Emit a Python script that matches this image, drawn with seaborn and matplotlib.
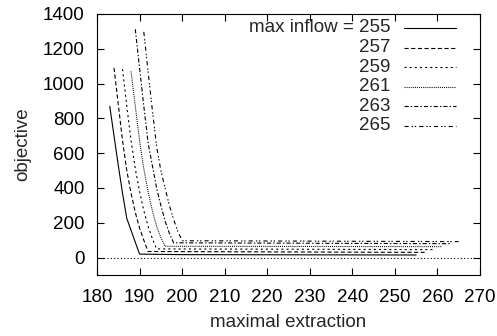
import matplotlib
matplotlib.use("Agg")
import matplotlib.pyplot as plt
import seaborn as sns
import numpy as np

sns.set_style("ticks")
plt.rcParams['font.family'] = ['Liberation Sans', 'DejaVu Sans']
plt.rcParams['lines.scale_dashes'] = False

inflows = [255, 257, 259, 261, 263, 265]

x255 = [183, 184, 185, 186, 187, 188, 189, 190, 200, 255]
y255 = [870, 700, 530, 370, 225, 157, 88, 20, 17, 15]

x257 = [184, 185, 186, 187, 188, 189, 190, 191, 192, 257]
y257 = [1090, 880, 672, 500, 370, 260, 170, 100, 35, 30]

x259 = [186, 187, 188, 189, 190, 191, 192, 193, 194, 259]
y259 = [1083, 870, 672, 510, 380, 270, 180, 110, 50, 46]

x261 = [188, 189, 190, 191, 192, 193, 194, 195, 196, 261]
y261 = [1070, 870, 672, 510, 380, 270, 180, 115, 65, 63]

x263 = [189, 190, 191, 192, 193, 194, 195, 196, 197, 198, 263]
y263 = [1312, 1090, 870, 660, 530, 400, 300, 210, 140, 85, 80]

x265 = [191, 192, 193, 194, 195, 196, 197, 198, 199, 200, 265]
y265 = [1297, 1070, 850, 640, 500, 400, 300, 220, 150, 97, 92]

xs = [x255, x257, x259, x261, x263, x265]
ys = [y255, y257, y259, y261, y263, y265]
labels = ["max inflow = 255", "257", "259", "261", "263", "265"]
styles = ['-', (0, (3, 1.8)), (0, (1.5, 2.2)), (0, (0.7, 0.8)),
          (0, (3, 1.5, 1, 1.5)), (0, (3, 2.2, 1, 1.2, 1, 2.2))]

FS = 13.5

fig = plt.figure(figsize=(4.97, 3.36), dpi=100)
ax = fig.add_axes([97/497, 1-275/336, (480-97)/497, (275-14)/336])

for x, y, ls in zip(xs, ys, styles):
    sns.lineplot(x=np.array(x), y=np.array(y), ax=ax, color='black',
                 linestyle=ls, linewidth=0.8, estimator=None, sort=False)

ax.axhline(0, color='black', linestyle=(0, (0.8, 1.6)), linewidth=0.8)

ax.set_xlim(180, 270)
ax.set_ylim(-100, 1400)
ax.set_xticks(np.arange(180, 271, 10))
ax.set_yticks(np.arange(0, 1401, 200))
ax.tick_params(direction='in', length=5, width=0.8, top=True, right=True,
               labelsize=FS, colors='black')
ax.tick_params(axis='x', pad=10)
ax.tick_params(axis='y', pad=9)
for s in ax.spines.values():
    s.set_visible(True)
    s.set_linewidth(0.8)
    s.set_color('black')

ax.set_xlabel("maximal extraction", fontsize=FS, labelpad=6)
ax.set_ylabel("objective", fontsize=FS, labelpad=8)

# legend (gnuplot style: right-aligned text, sample on the right)
row0 = 28
dy = 19.6
for i, (lab, ls) in enumerate(zip(labels, styles)):
    ypix = row0 + i * dy
    yax = (275 - ypix) / (275 - 14)
    ax.text((390 - 97) / 383, yax, lab, transform=ax.transAxes,
            ha='right', va='center', fontsize=FS)
    ax.plot([(404 - 97) / 383, (456 - 97) / 383], [yax, yax],
            transform=ax.transAxes, color='black', linestyle=ls, linewidth=0.8)

fig.savefig("out.png", dpi=100)
